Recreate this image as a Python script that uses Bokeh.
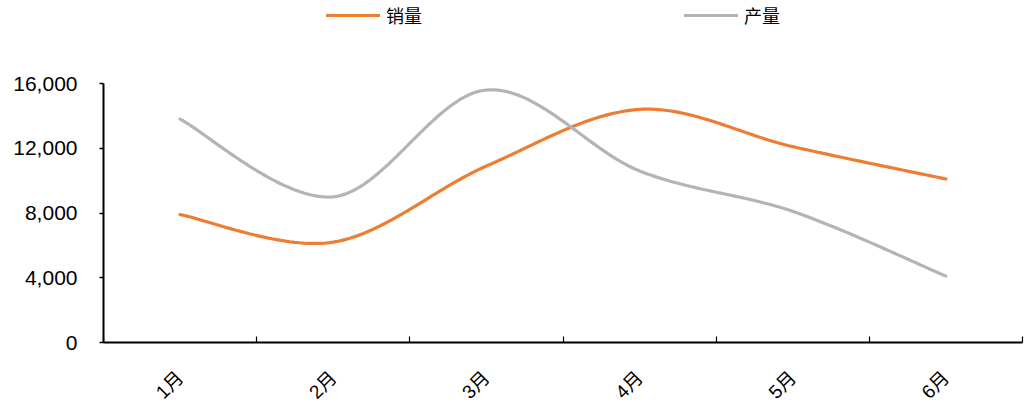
import numpy as np
from bokeh.plotting import figure
from bokeh.models import (Range1d, LinearAxis, FixedTicker, NumeralTickFormatter,
                          Legend, LegendItem)
from bokeh.embed import file_html
from bokeh.resources import INLINE

# Monthly data
months = ["1月", "2月", "3月", "4月", "5月", "6月"]
sales = [7900, 6200, 10900, 14400, 12100, 10100]        # 销量
production = [13800, 9000, 15600, 10600, 8100, 4100]     # 产量
y_ticks = [0, 4000, 8000, 12000, 16000]

ORANGE = "#ED7D31"
GREY = "#B4B4B4"

# Frame geometry: the value axis spans 259 px, with 83 px of headroom above
# it for the legend (drawn inside the frame so it is never clipped).
AXIS_PX = 259
FRAME_PX = 342
Y_MAX = y_ticks[-1]
Y_TOP = Y_MAX * FRAME_PX / AXIS_PX


def smooth(xs, ys, steps=40):
    """Cardinal (Catmull-Rom style) Bezier smoothing through every point."""
    pts = np.column_stack([xs, ys]).astype(float)
    n = len(pts)
    out = [pts[0]]
    for i in range(n - 1):
        p0 = pts[i - 1] if i > 0 else pts[i]
        p1 = pts[i]
        p2 = pts[i + 1]
        p3 = pts[i + 2] if i + 2 < n else pts[i + 1]
        c1 = p1 + (p2 - p0) / 6.0
        c2 = p2 - (p3 - p1) / 6.0
        t = np.linspace(0, 1, steps)[1:, None]
        seg = ((1 - t) ** 3) * p1 + 3 * ((1 - t) ** 2) * t * c1 \
            + 3 * (1 - t) * t ** 2 * c2 + t ** 3 * p2
        out.extend(seg)
    out = np.array(out)
    return out[:, 0], out[:, 1]


xc = np.arange(len(months)) + 0.5

p = figure(frame_width=919, frame_height=FRAME_PX, output_backend="svg",
           toolbar_location=None,
           x_range=Range1d(0, len(months)), y_range=Range1d(0, Y_TOP),
           x_axis_location=None, y_axis_location=None,
           min_border_left=103, min_border_right=7, min_border_top=0,
           min_border_bottom=64)
p.outline_line_color = None
p.xgrid.visible = False
p.ygrid.visible = False
p.background_fill_color = "white"

sx, sy = smooth(xc, sales)
px, py = smooth(xc, production)
r_sales = p.line(sx, sy, line_color=ORANGE, line_width=3.2, line_cap="round")
r_prod = p.line(px, py, line_color=GREY, line_width=3.2, line_cap="round")

# Y axis
yaxis = LinearAxis(ticker=FixedTicker(ticks=y_ticks), bounds=(0, Y_MAX),
                   formatter=NumeralTickFormatter(format="0,0"))
yaxis.axis_line_color = "black"
yaxis.axis_line_width = 2
yaxis.major_tick_line_width = 1.5
yaxis.major_tick_in = 0
yaxis.major_tick_out = 4
yaxis.minor_tick_line_color = None
yaxis.major_label_text_font = "Liberation Sans"
yaxis.major_label_text_font_size = "21px"
yaxis.major_label_text_color = "#000000"
yaxis.major_label_standoff = 22
p.add_layout(yaxis, "left")

# X axis: tick marks between categories
bounds = list(range(len(months) + 1))
xaxis = LinearAxis(ticker=FixedTicker(ticks=bounds),
                   major_label_overrides={b: "" for b in bounds})
xaxis.axis_line_color = "black"
xaxis.axis_line_width = 2
xaxis.major_tick_line_width = 1.2
xaxis.major_tick_in = 6
xaxis.major_tick_out = 0
xaxis.minor_tick_line_color = None
xaxis.major_label_standoff = 0
p.add_layout(xaxis, "below")

# X axis labels at category centres
laxis = LinearAxis(ticker=FixedTicker(ticks=list(xc)),
                   major_label_overrides={float(x): m for x, m in zip(xc, months)})
laxis.axis_line_color = None
laxis.major_tick_line_color = None
laxis.minor_tick_line_color = None
laxis.major_label_orientation = np.pi / 4
laxis.major_label_text_font = "Liberation Sans, Noto Sans CJK SC"
laxis.major_label_text_font_size = "19px"
laxis.major_label_text_color = "#000000"
laxis.major_label_standoff = 26
p.add_layout(laxis, "below")

legend = Legend(items=[LegendItem(label="销量", renderers=[r_sales]),
                       LegendItem(label="产量", renderers=[r_prod])],
                orientation="horizontal", location=(223, 314))
legend.label_text_font = "Noto Sans CJK SC"
legend.label_text_font_size = "18px"
legend.label_text_color = "#000000"
legend.glyph_width = 54
legend.label_standoff = 6
legend.spacing = 262
legend.border_line_color = None
legend.background_fill_alpha = 0
legend.padding = 2
legend.margin = 0
p.add_layout(legend, "center")

open("out.html", "w").write(file_html(p, INLINE))
